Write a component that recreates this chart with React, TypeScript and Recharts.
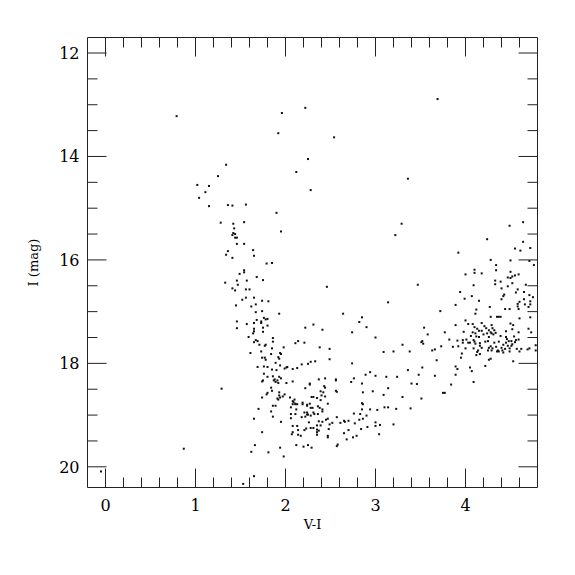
import React from 'react';
import { ScatterChart, Scatter, XAxis, YAxis } from 'recharts';

// [V-I, I] pairs
const upperStars: [number, number][] = [
  [0.79,13.22],[1.96,13.16],[2.22,13.06],[1.92,13.55],[2.25,14.05],[1.34,14.16],[2.12,14.30],[1.25,14.38],
  [3.69,12.89],[2.54,13.63],[3.36,14.43],[2.28,14.65],[3.29,15.30],[3.22,15.52],[-0.05,20.09],[0.87,19.65],
];

const blueUpper: [number, number][] = [
  [1.02,14.55],[1.15,14.57],[1.11,14.69],[1.04,14.80],[1.15,14.96],[1.36,14.94],[1.41,14.95],[1.56,14.93],
  [1.90,15.09],[1.28,15.28],[1.42,15.30],[1.54,15.27],[1.43,15.39],[1.95,15.45],[1.41,15.52],[1.44,15.50],
  [1.42,15.48],[1.44,15.57],[1.46,15.57],[1.46,15.69],[1.54,15.69],[1.36,15.83],[1.64,15.81],[1.34,15.90],
  [1.65,15.92],[1.41,15.96],[1.79,16.07],[1.85,16.06],[1.54,16.20],[1.49,16.27],[1.54,16.24],[1.68,16.33],
  [1.75,16.39],
];

const blueMiddle: [number, number][] = [
  [1.33,16.44],[1.46,16.40],[1.57,16.40],[1.47,16.48],[1.41,16.55],[1.44,16.59],[1.56,16.57],[1.60,16.57],
  [1.52,16.77],[1.56,16.73],[1.65,16.73],[1.74,16.79],[1.81,16.80],[1.45,16.88],[1.62,16.90],[1.67,16.86],
  [1.67,17.01],[1.74,16.99],[1.93,17.04],[1.46,17.19],[1.46,17.32],[1.57,17.24],[1.65,17.22],[1.68,17.16],
  [1.73,17.19],[1.73,17.22],[1.76,17.12],[1.78,17.15],[1.80,17.14],[1.80,17.27],[1.75,17.31],[1.75,17.39],
  [1.65,17.33],[1.65,17.38],[1.64,17.42],[1.59,17.49],[1.65,17.59],[1.67,17.55],[1.69,17.57],[1.71,17.64],
  [1.77,17.66],[1.78,17.64],[1.86,17.51],[1.86,17.58],[1.85,17.71],[1.98,17.69],[2.11,17.61],[2.14,17.57],
  [1.61,17.80],[1.73,17.77],[1.84,17.82],[1.94,17.80],[1.95,17.82],[1.74,17.89],[1.77,17.89],[1.78,17.93],
  [1.92,17.88],[1.93,17.91],[1.89,17.99],[1.76,18.06],[1.69,18.07],[1.80,18.07],[1.85,18.12],[1.90,18.13],
  [1.94,18.04],[1.99,18.10],[2.01,18.08],[2.02,18.07],[2.08,18.11],[2.13,18.09],[1.76,18.20],[1.80,18.26],
  [1.86,18.25],[1.88,18.31],[1.93,18.26],[1.95,18.29],
];

const middleField: [number, number][] = [
  [2.46,16.52],[3.47,16.48],[3.14,16.82],[2.64,17.04],[2.85,17.11],[2.82,17.20],[2.90,17.30],[2.31,17.25],
  [2.22,17.31],[2.41,17.35],[2.74,17.40],[3.00,17.50],[2.21,17.60],[2.38,17.69],[2.49,17.72],[3.30,17.64],
  [3.38,17.77],[3.09,17.78],[3.20,17.77],[2.49,17.92],[2.33,17.96],[2.28,17.97],[2.25,18.01],[2.18,18.02],
  [2.74,18.00],[2.94,18.17],[2.89,18.22],[3.00,18.24],[3.36,18.13],[3.48,18.22],[3.12,18.26],[3.24,18.26],
  [2.37,18.31],[2.44,18.29],[2.56,18.31],[2.76,18.29],
];

const redUpper: [number, number][] = [
  [4.49,15.34],[4.64,15.27],[4.24,15.60],[4.64,15.65],[3.92,15.86],[4.55,15.78],[4.61,15.82],[4.72,15.77],
  [4.28,16.00],[4.50,16.01],[4.71,16.02],[4.34,16.10],[4.76,16.10],[4.10,16.19],[4.10,16.25],[4.00,16.28],
  [4.18,16.26],[4.34,16.20],[4.50,16.23],[4.55,16.30],[4.59,16.28],[4.52,16.32],[4.47,16.34],[4.50,16.35],
];

const redClump: [number, number][] = [
  [4.33,16.40],[4.39,16.42],[4.33,16.47],[4.47,16.51],[4.52,16.45],[4.67,16.48],[4.09,16.49],[4.40,16.55],
  [4.58,16.57],[4.56,16.63],[3.94,16.62],[4.07,16.70],[4.43,16.67],[4.42,16.70],[4.65,16.62],[4.71,16.68],
  [4.75,16.72],[4.65,16.76],[3.99,16.75],[4.15,16.79],[4.40,16.76],[4.60,16.81],[4.66,16.86],[4.58,16.85],
  [4.58,16.90],[4.72,16.80],[4.72,16.86],[4.70,16.91],[3.89,16.87],[4.27,16.91],[4.44,16.95],[4.49,16.95],
  [4.59,16.95],[4.12,16.96],[4.11,17.04],[3.72,16.99],[4.28,17.10],[4.35,17.10],[4.37,17.10],[4.39,17.10],
  [4.60,17.13],[4.72,17.11],[4.00,17.17],[3.89,17.26],[4.03,17.24],[4.08,17.24],[4.10,17.30],[4.18,17.22],
  [4.21,17.28],[4.13,17.33],[4.08,17.40],[4.29,17.26],[4.23,17.32],[4.30,17.32],[4.32,17.36],[4.50,17.23],
  [4.53,17.26],[4.52,17.34],[4.45,17.38],[4.59,17.40],[4.70,17.33],[4.73,17.40],[3.54,17.31],[3.58,17.44],
  [3.77,17.40],[3.98,17.39],[4.11,17.42],[4.18,17.37],[4.20,17.44],[4.15,17.37],[4.26,17.36],[4.28,17.40],
  [4.29,17.42],[4.24,17.42],[4.26,17.49],[4.31,17.44],[4.335,17.41],[4.15,17.49],[4.12,17.48],[4.06,17.47],
  [4.01,17.54],[3.97,17.55],[3.91,17.56],[3.82,17.54],[3.52,17.57],[3.53,17.62],[3.51,17.59],[4.03,17.60],
  [4.09,17.55],[4.10,17.58],[4.05,17.60],[4.11,17.62],[4.16,17.61],[4.22,17.58],[4.25,17.57],[4.32,17.60],
  [4.28,17.67],[4.26,17.70],[4.30,17.71],[4.29,17.75],[4.25,17.75],[4.34,17.68],[4.39,17.47],[4.45,17.49],
  [4.46,17.53],[4.48,17.57],[4.51,17.57],[4.54,17.48],[4.56,17.55],[4.59,17.54],[4.37,17.58],[4.42,17.64],
  [4.45,17.60],[4.47,17.66],[4.51,17.66],[4.40,17.70],[4.41,17.75],[4.42,17.79],[4.37,17.77],[4.36,17.75],
  [4.35,17.77],[4.55,17.59],[4.52,17.63],[4.49,17.71],[4.44,17.72],[4.57,17.72],[4.62,17.72],[4.69,17.73],
  [4.71,17.71],[4.78,17.65],[4.78,17.75],[4.60,17.77],[4.49,17.77],[4.16,17.66],[4.18,17.70],[4.14,17.75],
  [4.13,17.78],[4.09,17.71],[3.97,17.60],[3.92,17.67],[3.86,17.68],[4.00,17.71],[3.96,17.81],[3.95,17.89],
  [3.66,17.73],[3.63,17.75],[3.73,17.67],[3.68,17.94],[4.12,17.84],[4.16,17.82],[4.28,17.91],[4.26,17.93],
  [4.53,17.96],[4.22,18.05],[4.05,18.08],[4.07,18.15],[3.89,18.06],[3.91,18.11],[3.89,18.22],[3.52,18.08],
  [3.66,18.24],
];

const lowerLeft: [number, number][] = [
  [1.29,18.49],[1.74,18.35],[1.75,18.33],[1.87,18.33],[1.89,18.36],[1.92,18.38],[2.01,18.38],[2.08,18.35],
  [1.91,18.33],[1.84,18.47],[1.85,18.53],[1.93,18.56],[1.79,18.60],[1.80,18.57],[1.74,18.66],[1.93,18.62],
  [1.97,18.64],[1.99,18.60],[1.94,18.66],[1.91,18.68],[1.92,18.70],[2.05,18.66],[2.08,18.73],[2.10,18.70],
  [2.11,18.78],[2.09,18.75],[2.11,18.79],[2.13,18.79],[2.08,18.79],[1.86,18.82],[1.89,18.82],[2.06,18.85],
  [2.12,18.89],[1.70,18.88],[1.84,18.93],[2.06,18.98],[2.11,18.98],[2.06,19.06],[1.86,19.03],[1.65,19.07],
  [1.95,19.13],[2.13,19.21],[2.08,19.21],[2.14,19.29],[2.14,19.38],[2.08,19.33],[2.07,19.37],[1.74,19.33],
  [1.66,19.58],[1.62,19.71],[1.81,19.72],[1.94,19.63],[2.12,19.58],[1.98,19.80],[1.65,20.18],[1.53,20.33],
];

const lowerMiddle: [number, number][] = [
  [2.27,18.39],[2.27,18.41],[2.22,18.48],[2.43,18.44],[2.44,18.47],[2.56,18.33],[2.73,18.36],[2.85,18.39],
  [2.56,18.53],[2.57,18.55],[2.86,18.56],[2.97,18.54],[3.14,18.48],[3.09,18.61],[3.30,18.65],[3.40,18.39],
  [3.46,18.40],[2.39,18.54],[2.42,18.56],[2.40,18.62],[2.44,18.64],[2.29,18.65],[2.31,18.65],[2.35,18.67],
  [2.39,18.71],[2.47,18.78],[2.19,18.76],[2.19,18.79],[2.24,18.80],[2.24,18.82],[2.27,18.78],[2.30,18.86],
  [2.28,18.86],[2.36,18.83],[2.38,18.86],[2.41,18.89],[2.41,18.93],[2.21,18.95],[2.24,18.95],[2.24,18.99],
  [2.25,18.99],[2.31,18.95],[2.32,18.98],[2.36,18.98],[2.18,19.04],[2.22,19.03],[2.28,19.01],[2.45,19.09],
  [2.47,19.07],[2.57,19.04],[2.65,19.11],[2.66,19.13],[2.70,19.11],[2.61,19.15],[2.52,19.15],[2.49,19.18],
  [2.41,19.13],[2.37,19.12],[2.26,19.14],[2.35,19.20],[2.39,19.20],[2.31,19.25],[2.28,19.25],[2.23,19.26],
  [2.21,19.29],[2.35,19.28],[2.37,19.30],[2.35,19.33],[2.48,19.27],[2.76,18.97],[2.83,18.98],[2.90,19.01],
  [2.86,19.07],[2.82,19.09],[2.77,19.16],[2.84,19.27],[2.91,19.23],[2.94,18.89],[2.85,18.89],[2.85,18.77],
  [2.86,18.79],[3.00,19.14],[3.05,19.19],[3.00,19.21],[3.20,19.18],[3.04,19.37],[2.70,19.29],[2.65,19.35],
  [2.79,19.40],[2.75,19.43],[2.68,19.47],[2.58,19.57],[2.57,19.60],[2.47,19.40],[2.47,19.43],[2.35,19.38],
  [2.17,19.40],[2.25,19.58],[2.29,19.63],[2.20,19.61],[3.02,18.90],[3.10,18.85],[3.14,18.85],[3.23,18.88],
  [3.39,18.87],
];

const lowerRight: [number, number][] = [
  [3.51,18.68],[3.75,18.57],[3.77,18.57],[3.84,18.41],[4.09,18.36],
];

const allStars = [
  ...upperStars, ...blueUpper, ...blueMiddle, ...middleField,
  ...redUpper, ...redClump, ...lowerLeft, ...lowerMiddle, ...lowerRight,
].map(([vi, mag]) => ({ vi, mag }));

const xDomain: [number, number] = [-0.2, 4.8];
const yDomain: [number, number] = [11.7, 20.4];
const xMajorTicks = [0, 1, 2, 3, 4];
const xAllTicks = [
  0, 0.2, 0.4, 0.6, 0.8, 1, 1.2, 1.4, 1.6, 1.8, 2, 2.2, 2.4, 2.6, 2.8,
  3, 3.2, 3.4, 3.6, 3.8, 4, 4.2, 4.4, 4.6,
];
const yMajorTicks = [12, 14, 16, 18, 20];
const yAllTicks = [12, 12.5, 13, 13.5, 14, 14.5, 15, 15.5, 16, 16.5, 17, 17.5, 18, 18.5, 19, 19.5, 20];

const FONT = "'DejaVu Serif', 'Liberation Serif', serif";
const AX = '#222';
const MAJOR = 19;
const MINOR = 10;

const BottomTick = (p: any) => {
  const major = xMajorTicks.includes(p.payload.value);
  return (
    <g>
      <line x1={p.x} x2={p.x} y1={p.y} y2={p.y - (major ? MAJOR : MINOR)} stroke={AX} strokeWidth={1} />
      {major && (
        <text x={p.x} y={p.y + 23} textAnchor="middle" fontSize={16} fontFamily={FONT} fill="#000">
          {p.payload.value}
        </text>
      )}
    </g>
  );
};

const TopTick = (p: any) => {
  const major = xMajorTicks.includes(p.payload.value);
  return <line x1={p.x} x2={p.x} y1={p.y} y2={p.y + (major ? MAJOR : MINOR)} stroke={AX} strokeWidth={1} />;
};

const LeftTick = (p: any) => {
  const major = yMajorTicks.includes(p.payload.value);
  return (
    <g>
      <line x1={p.x} x2={p.x + (major ? MAJOR : MINOR)} y1={p.y} y2={p.y} stroke={AX} strokeWidth={1} />
      {major && (
        <text x={p.x - 8} y={p.y + 6} textAnchor="end" fontSize={16} fontFamily={FONT} fill="#000">
          {p.payload.value}
        </text>
      )}
    </g>
  );
};

const RightTick = (p: any) => {
  const major = yMajorTicks.includes(p.payload.value);
  return <line x1={p.x} x2={p.x - (major ? MAJOR : MINOR)} y1={p.y} y2={p.y} stroke={AX} strokeWidth={1} />;
};

const YTitle = (props: any) => {
  const vb = props.viewBox || { x: 0, y: 0, width: 0, height: 0 };
  const cx = vb.x + 25;
  const cy = vb.y + vb.height / 2;
  return (
    <text x={cx} y={cy} transform={`rotate(-90, ${cx}, ${cy})`} textAnchor="middle" dominantBaseline="central"
      fontSize={13} fontFamily={FONT} fill="#000">
      I (mag)
    </text>
  );
};

const Dot = (p: any) => <rect x={p.cx - 1} y={p.cy - 1} width={2} height={2} fill="#111" />;
const NoDot = () => <g />;

export default function App() {
  return (
    <ScatterChart width={560} height={560} margin={{ top: 28.5, right: 29.5, bottom: 30.5, left: 0 }}>
      <XAxis xAxisId="b" dataKey="vi" type="number" orientation="bottom" domain={xDomain} allowDataOverflow
        ticks={xAllTicks} interval={0} tickSize={0} tickMargin={0} tickLine={false} tick={<BottomTick />}
        axisLine={{ stroke: AX }} height={50}
        label={{ value: 'V-I', position: 'insideBottom', offset: 9, fontSize: 13, fontFamily: FONT, fill: '#000' }} />
      <XAxis xAxisId="t" dataKey="vi" type="number" orientation="top" domain={xDomain} allowDataOverflow
        ticks={xAllTicks} interval={0} tickSize={0} tickMargin={0} tickLine={false} tick={<TopTick />}
        axisLine={{ stroke: AX }} height={1} />
      <YAxis yAxisId="l" dataKey="mag" type="number" orientation="left" domain={yDomain} allowDataOverflow reversed
        ticks={yAllTicks} interval={0} tickSize={0} tickMargin={0} tickLine={false} tick={<LeftTick />}
        axisLine={{ stroke: AX }} width={79.5} label={(props: any) => <YTitle {...props} />} />
      <YAxis yAxisId="r" dataKey="mag" type="number" orientation="right" domain={yDomain} allowDataOverflow reversed
        ticks={yAllTicks} interval={0} tickSize={0} tickMargin={0} tickLine={false} tick={<RightTick />}
        axisLine={{ stroke: AX }} width={1} />
      <Scatter data={allStars} xAxisId="t" yAxisId="r" shape={<NoDot />} isAnimationActive={false} />
      <Scatter data={allStars} xAxisId="b" yAxisId="l" shape={<Dot />} isAnimationActive={false} />
    </ScatterChart>
  );
}
